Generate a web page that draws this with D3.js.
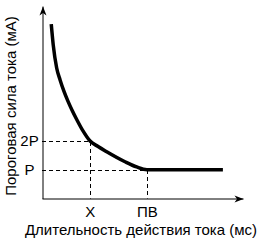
<!DOCTYPE html>
<html>
<head>
<meta charset="utf-8">
<script src="https://cdn.jsdelivr.net/npm/d3@7"></script>
<style>
  html, body { margin: 0; padding: 0; background: #fff; }
  svg { display: block; font-family: 'Liberation Sans', Arial, sans-serif; }
</style>
</head>
<body>
<div id="chart"></div>
<script>
// values (arbitrary units)
const durations = [0.46, 0.56, 0.73, 0.90, 1.09, 1.29, 1.49, 1.74, 2.04, 2.38, 2.79, 3.22, 4.13, 4.71, 5.22, 9.0];
const thresholds = [9.06, 7.97, 6.78, 6.16, 5.58, 5.06, 4.60, 4.08, 3.51, 3.0, 2.70, 2.43, 1.91, 1.64, 1.5, 1.5];

// guide ticks: X goes with 2P, ПВ goes with P
const xTickValues = [2.38, 5.22];
const xTickLabels = ['X', 'ПВ'];
const yTickValues = [3.0, 1.5];
const yTickLabels = ['2P', 'P'];

const xTitle = 'Длительность действия тока (мс)';
const yTitle = 'Пороговая сила тока (мА)';

const width = 260;
const height = 245;

const svg = d3.select('#chart')
  .append('svg')
  .attr('width', width)
  .attr('height', height);

const x = d3.scaleLinear().domain([0, 10]).range([42, 243]);
const y = d3.scaleLinear().domain([0, 10]).range([198.5, 6]);

// arrow heads for the axes
svg.append('defs')
  .append('marker')
  .attr('id', 'arrow')
  .attr('viewBox', '-10 -5 10 10')
  .attr('refX', 0)
  .attr('refY', 0)
  .attr('markerUnits', 'userSpaceOnUse')
  .attr('markerWidth', 10)
  .attr('markerHeight', 10)
  .attr('orient', 'auto')
  .append('path')
  .attr('d', 'M0,0L-9,-3.5L-6.5,0L-9,3.5Z')
  .attr('fill', '#000');

// dashed guide lines
const guides = svg.append('g')
  .attr('fill', 'none')
  .attr('stroke', '#000')
  .attr('stroke-width', 1)
  .attr('stroke-dasharray', '4,3');

xTickValues.forEach((tv, i) => {
  const yv = yTickValues[i];
  guides.append('path')
    .attr('d', `M${x(0)},${Math.round(y(yv)) + 0.5}H${Math.round(x(tv)) + 0.5}V${y(0)}`);
});

// axes
const xAxis = d3.axisBottom(x)
  .tickValues(xTickValues)
  .tickFormat((d, i) => xTickLabels[i])
  .tickSize(0)
  .tickSizeOuter(0)
  .tickPadding(7.5);

const yAxis = d3.axisLeft(y)
  .tickValues(yTickValues)
  .tickFormat((d, i) => yTickLabels[i])
  .tickSize(0)
  .tickSizeOuter(0)
  .tickPadding(12);

const gx = svg.append('g')
  .attr('transform', `translate(0,${y(0)})`)
  .call(xAxis);

const gy = svg.append('g')
  .attr('transform', `translate(${x(0) + 0.5},0)`)
  .call(yAxis);

[gx, gy].forEach((g) => {
  g.select('.domain')
    .attr('stroke', '#000')
    .attr('stroke-width', 1)
    .attr('marker-end', 'url(#arrow)');
  g.selectAll('text')
    .attr('fill', '#000')
    .style('font-size', '15px')
    .style('font-family', "'Liberation Sans', Arial, sans-serif");
});

gy.selectAll('text')
  .attr('text-anchor', 'middle')
  .attr('x', -13);

// curve
const line = d3.line()
  .x((d) => x(d[0]))
  .y((d) => y(d[1]))
  .curve(d3.curveMonotoneX);

svg.append('path')
  .datum(durations.map((t, i) => [t, thresholds[i]]))
  .attr('d', line)
  .attr('fill', 'none')
  .attr('stroke', '#000')
  .attr('stroke-width', 3.5);

// titles
svg.append('text')
  .attr('x', 141)
  .attr('y', 234.5)
  .attr('text-anchor', 'middle')
  .style('font-size', '15px')
  .text(xTitle);

svg.append('text')
  .attr('transform', 'translate(16,106) rotate(-90)')
  .attr('text-anchor', 'middle')
  .style('font-size', '15px')
  .text(yTitle);
</script>
</body>
</html>
